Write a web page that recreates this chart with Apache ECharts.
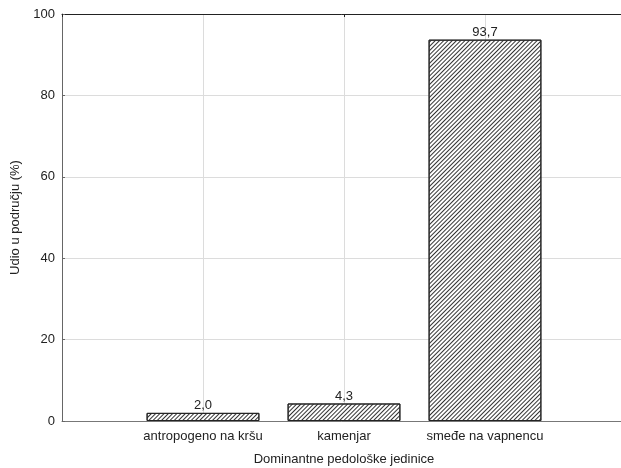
<!DOCTYPE html>
<html>
<head>
<meta charset="utf-8">
<script src="https://cdn.jsdelivr.net/npm/echarts@6/dist/echarts.min.js"></script>
<style>html,body{margin:0;padding:0;background:#fff}#c{width:621px;height:468px}</style>
</head>
<body>
<div id="c"></div>
<script>
const categories = ['', 'antropogeno na kršu', 'kamenjar', 'smeđe na vapnencu', ''];
const values = [null, 2.0, 4.3, 93.7, null];
const yTicks = [0, 20, 40, 60, 80, 100];
const xName = 'Dominantne pedološke jedinice';
const yName = 'Udio u području (%)';

const chart = echarts.init(document.getElementById('c'), null, {renderer: 'canvas'});
const font = {fontFamily: 'Liberation Sans, Arial, sans-serif', fontSize: 13, color: '#222'};
chart.setOption({
  animation: false,
  backgroundColor: '#fff',
  grid: {left: 62, top: 14, right: -5, bottom: 47, containLabel: false, outerBoundsMode: 'none'},
  xAxis: [{
    type: 'category',
    data: categories,
    boundaryGap: false,
    name: xName,
    nameLocation: 'middle',
    nameGap: 32,
    nameTextStyle: font,
    axisLine: {lineStyle: {color: '#777', width: 1}},
    axisTick: {show: false},
    axisLabel: Object.assign({margin: 9, interval: 0}, font),
    splitLine: {show: true, lineStyle: {color: '#dcdcdc', width: 1}}
  }, {
    type: 'category',
    data: categories,
    boundaryGap: false,
    position: 'top',
    axisLine: {show: true, lineStyle: {color: '#222', width: 1}},
    axisTick: {show: true, inside: true, length: 3, lineStyle: {color: '#222'}},
    axisLabel: {show: false},
    splitLine: {show: false}
  }],
  yAxis: {
    type: 'value',
    min: yTicks[0],
    max: yTicks[yTicks.length - 1],
    interval: yTicks[1] - yTicks[0],
    name: yName,
    nameLocation: 'middle',
    nameGap: 39,
    nameTextStyle: font,
    axisLine: {show: true, lineStyle: {color: '#666', width: 1}},
    axisTick: {show: true, inside: true, length: 3, lineStyle: {color: '#666'}},
    axisLabel: Object.assign({margin: 7}, font),
    splitLine: {show: true, lineStyle: {color: '#dcdcdc', width: 1}}
  },
  series: [{
    type: 'bar',
    data: values,
    barWidth: '80%',
    itemStyle: {
      color: '#fff',
      borderColor: '#222',
      borderWidth: 1,
      decal: {
        symbol: 'rect',
        symbolSize: 1,
        rotation: -Math.PI / 4,
        dashArrayX: [1, 0],
        dashArrayY: [1, 1.2],
        color: '#333'
      }
    },
    label: {
      show: true,
      position: 'top',
      distance: 1,
      fontFamily: 'Liberation Sans, Arial, sans-serif',
      fontSize: 13,
      color: '#222',
      formatter: p => p.value == null ? '' : p.value.toFixed(1).replace('.', ',')
    }
  }]
});
</script>
</body>
</html>
